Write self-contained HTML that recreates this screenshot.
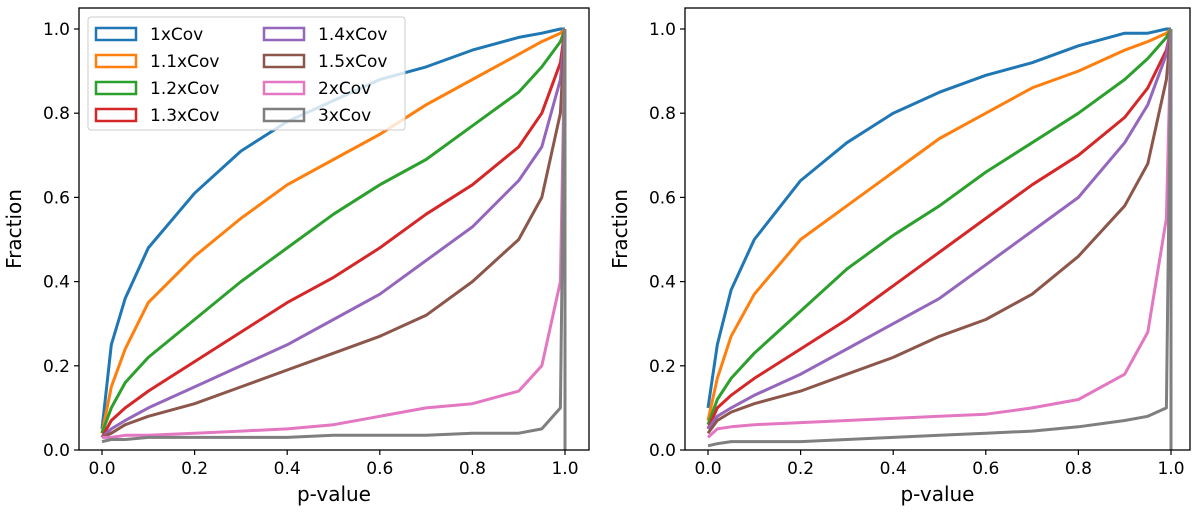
<!DOCTYPE html>
<html><head><meta charset="utf-8"><style>
body{margin:0;background:#fff}
svg text{font-family:"DejaVu Sans","Liberation Sans",sans-serif;fill:#000}
</style></head><body>
<svg id="chart" width="1200" height="512" xmlns="http://www.w3.org/2000/svg"></svg>
<script>
const pvals=[0,0.02,0.05,0.1,0.2,0.3,0.4,0.5,0.6,0.7,0.8,0.9,0.95,0.99,1];
const seriesNames=["1xCov","1.1xCov","1.2xCov","1.3xCov","1.4xCov","1.5xCov","2xCov","3xCov"];
const colors=["#1f77b4","#ff7f0e","#2ca02c","#d62728","#9467bd","#8c564b","#e377c2","#7f7f7f"];
const leftData=[
[0.05,0.25,0.36,0.48,0.61,0.71,0.78,0.83,0.88,0.91,0.95,0.98,0.99,1,1],
[0.04,0.15,0.24,0.35,0.46,0.55,0.63,0.69,0.75,0.82,0.88,0.94,0.97,0.99,1],
[0.04,0.1,0.16,0.22,0.31,0.4,0.48,0.56,0.63,0.69,0.77,0.85,0.91,0.97,1],
[0.03,0.07,0.1,0.14,0.21,0.28,0.35,0.41,0.48,0.56,0.63,0.72,0.8,0.92,1],
[0.03,0.05,0.07,0.1,0.15,0.2,0.25,0.31,0.37,0.45,0.53,0.64,0.72,0.88,1],
[0.03,0.04,0.06,0.08,0.11,0.15,0.19,0.23,0.27,0.32,0.4,0.5,0.6,0.8,1],
[0.03,0.03,0.035,0.035,0.04,0.045,0.05,0.06,0.08,0.1,0.11,0.14,0.2,0.4,1],
[0.02,0.025,0.025,0.03,0.03,0.03,0.03,0.035,0.035,0.035,0.04,0.04,0.05,0.1,1]];
const rightData=[
[0.1,0.25,0.38,0.5,0.64,0.73,0.8,0.85,0.89,0.92,0.96,0.99,0.99,1,1],
[0.07,0.17,0.27,0.37,0.5,0.58,0.66,0.74,0.8,0.86,0.9,0.95,0.97,0.99,1],
[0.06,0.12,0.17,0.23,0.33,0.43,0.51,0.58,0.66,0.73,0.8,0.88,0.93,0.98,1],
[0.05,0.1,0.13,0.17,0.24,0.31,0.39,0.47,0.55,0.63,0.7,0.79,0.86,0.95,1],
[0.05,0.08,0.1,0.13,0.18,0.24,0.3,0.36,0.44,0.52,0.6,0.73,0.82,0.94,1],
[0.04,0.07,0.09,0.11,0.14,0.18,0.22,0.27,0.31,0.37,0.46,0.58,0.68,0.88,1],
[0.03,0.05,0.055,0.06,0.065,0.07,0.075,0.08,0.085,0.1,0.12,0.18,0.28,0.55,1],
[0.01,0.015,0.02,0.02,0.02,0.025,0.03,0.035,0.04,0.045,0.055,0.07,0.08,0.1,1]];
const ticks=[0,0.2,0.4,0.6,0.8,1.0];
const tickLabels=["0.0","0.2","0.4","0.6","0.8","1.0"];

const svg=document.getElementById('chart');
const NS="http://www.w3.org/2000/svg";
function mk(tag,attrs,parent){const e=document.createElementNS(NS,tag);for(const k in attrs)e.setAttribute(k,attrs[k]);(parent||svg).appendChild(e);return e;}

function panel(name,L,R,x0px,x1px,data,legend){
  const g=mk('g',{});
  
  
  const T=8,B=450;
  const xs=v=>x0px+(x1px-x0px)*v;
  const ys=v=>B-421*v;
  data.forEach((arr,i)=>{
    let d='';
    arr.forEach((v,j)=>{d+=(j?'L':'M')+xs(pvals[j]).toFixed(1)+' '+ys(v).toFixed(1);});
    const p=mk('path',{d:d,fill:'none',stroke:colors[i],'stroke-width':3,'stroke-linejoin':'round'},g);
    
    
  });
  const vl=mk('line',{x1:xs(1),x2:xs(1),y1:ys(0),y2:ys(1),stroke:colors[7],'stroke-width':3},g);
  
  
  const fr=mk('rect',{x:L,y:T,width:R-L,height:B-T,fill:'none',stroke:'#000','stroke-width':1.3},g);
  
  
  ticks.forEach((t,i)=>{
    mk('line',{x1:xs(t),x2:xs(t),y1:B,y2:B+5,stroke:'#000','stroke-width':1.2},g);
    const tx=mk('text',{x:xs(t),y:B+24,'font-size':17,'text-anchor':'middle'},g);
    tx.textContent=tickLabels[i];
    
    
    mk('line',{x1:L,x2:L-5,y1:ys(t),y2:ys(t),stroke:'#000','stroke-width':1.2},g);
    const ty=mk('text',{x:L-9,y:ys(t)+6,'font-size':17,'text-anchor':'end'},g);
    ty.textContent=tickLabels[i];
    
    
  });
  const xl=mk('text',{x:(L+R)/2,y:501,'font-size':20,'text-anchor':'middle'},g);
  xl.textContent='p-value';
  
  
  const cx=L-58;
  const yl=mk('text',{x:cx,y:229,'font-size':20,'text-anchor':'middle',transform:`rotate(-90 ${cx} 229)`},g);
  yl.textContent='Fraction';
  
  
  if(legend){
    const lg=mk('g',{},g);
    
    
    mk('rect',{x:88,y:17,width:317,height:113,rx:3,fill:'#fff','fill-opacity':0.8,stroke:'#ccc'},lg);
    seriesNames.forEach((n,i)=>{
      const col=Math.floor(i/4),row=i%4;
      const px=col?264:96,ty=34+row*27;
      const e=mk('g',{},lg);
      
      
      mk('rect',{x:px,y:ty-6,width:40,height:12,fill:'none',stroke:colors[i],'stroke-width':2.5},e);
      const t=mk('text',{x:px+54,y:ty+6,'font-size':17},e);
      t.textContent=n;
    });
  }
}
panel('left-panel',79,589,102,565,leftData,true);
panel('right-panel',685,1190,708,1171,rightData,false);
</script>
</body></html>
